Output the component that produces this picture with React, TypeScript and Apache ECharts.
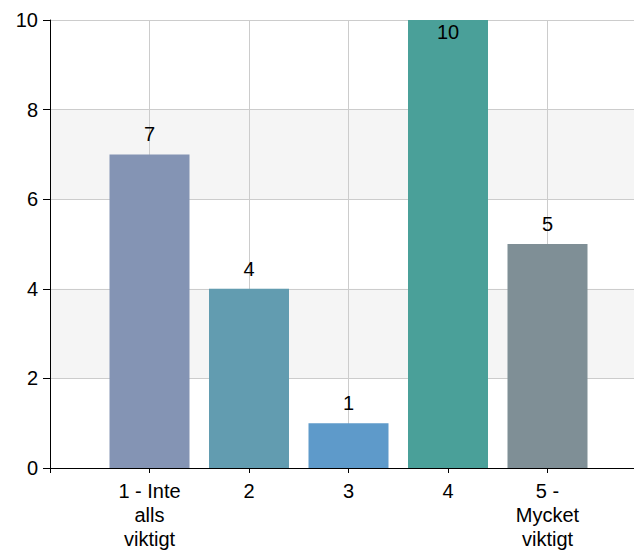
import React, { useEffect, useRef } from "react";
import * as echarts from "echarts";

const categories = ["1 - Inte\nalls\nviktigt", "2", "3", "4", "5 -\nMycket\nviktigt"];
const values = [7, 4, 1, 10, 5];
const barColors = ["#8494B4", "#629CB0", "#5E9ACA", "#4AA099", "#7F8F96"];
const yTicks = [0, 2, 4, 6, 8, 10];

const FONT = "'Liberation Sans', Arial, sans-serif";

export default function App() {
  const ref = useRef<HTMLDivElement>(null);
  useEffect(() => {
    if (!ref.current) return;
    const chart = echarts.init(ref.current, null, { renderer: "svg" });
    const data = values.map((v, i) => ({
      value: [i + 1, v],
      itemStyle: { color: barColors[i] },
      label:
        v >= yTicks[yTicks.length - 1]
          ? { position: "insideTop", distance: 2 }
          : { position: "top", distance: 10 },
    }));
    chart.setOption({
      animation: false,
      textStyle: { fontFamily: FONT },
      grid: { left: 50, top: 20, right: 0, bottom: 85, containLabel: false },
      xAxis: {
        type: "value",
        min: 0,
        max: 6,
        interval: 1,
        axisLine: { show: true, onZero: false, lineStyle: { color: "#000", width: 1 } },
        axisTick: { show: true, length: 5, lineStyle: { color: "#000" } },
        axisLabel: {
          margin: 11,
          fontSize: 20,
          lineHeight: 24,
          color: "#000",
          fontFamily: FONT,
          formatter: (v: number) => {
            const i = Math.round(v) - 1;
            return Math.abs(v - Math.round(v)) < 1e-6 && i >= 0 && i < categories.length ? categories[i] : "";
          },
        },
        splitLine: { show: true, lineStyle: { color: "#cccccc", width: 1 } },
      },
      yAxis: {
        type: "value",
        min: 0,
        max: 10,
        interval: 2,
        axisLine: { show: true, lineStyle: { color: "#000", width: 1 } },
        axisTick: { show: true, length: 7, lineStyle: { color: "#000" } },
        axisLabel: { margin: 12, fontSize: 20, color: "#000", fontFamily: FONT },
        splitLine: { show: true, lineStyle: { color: "#cccccc", width: 1 } },
        splitArea: { show: true, areaStyle: { color: ["rgba(255,255,255,0)", "#f5f5f5"] } },
      },
      series: [
        {
          type: "bar",
          barWidth: 80,
          data,
          label: {
            show: true,
            fontSize: 20,
            color: "#000",
            fontFamily: FONT,
            formatter: (p: any) => String(p.value[1]),
          },
        },
      ],
    });
    return () => chart.dispose();
  }, []);
  return (
    <div style={{ position: "absolute", left: 0, top: 0, width: 634, height: 553, overflow: "hidden", background: "#fff" }}>
      <div ref={ref} style={{ width: 650, height: 553 }} />
    </div>
  );
}
